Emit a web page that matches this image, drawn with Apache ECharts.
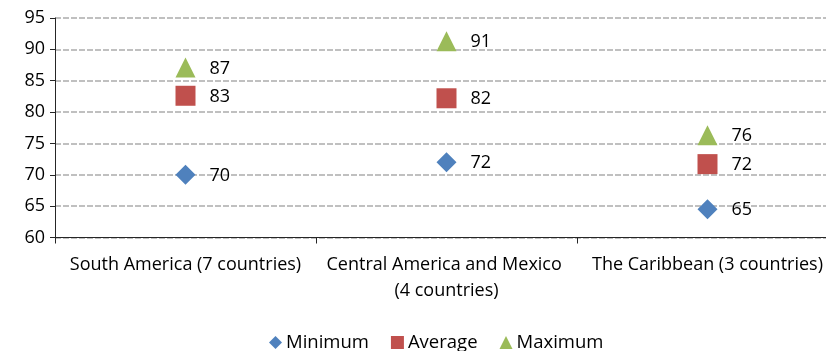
<!DOCTYPE html>
<html>
<head>
<meta charset="utf-8">
<script src="https://cdn.jsdelivr.net/npm/echarts@6/dist/echarts.min.js"></script>
<style>
  html, body { margin: 0; padding: 0; background: #fff; }
  #chart { width: 826px; height: 351px; }
</style>
</head>
<body>
<div id="chart"></div>
<script>
// Regions compared, with the minimum, average and maximum per region
const categories = ['South America (7 countries)', 'Central America and Mexico (4 countries)', 'The Caribbean (3 countries)'];
const minimumValues = [70.0, 72.0, 64.5];
const averageValues = [82.6, 82.2, 71.7];
const maximumValues = [87.1, 91.3, 76.3];
const yTicks = { min: 60, max: 95, step: 5 };

const FONT = '"Open Sans", "Liberation Sans", sans-serif';

function seriesOf(name, data, symbol, color) {
  return {
    name: name,
    type: 'scatter',
    data: data,
    symbol: symbol,
    symbolSize: 20,
    itemStyle: { color: color, opacity: 1 },
    label: {
      show: true,
      position: 'right',
      distance: 14,
      offset: [0, 1],
      color: '#000',
      fontFamily: FONT,
      fontSize: 18,
      formatter: p => Math.round(p.value).toString()
    },
    emphasis: { disabled: true }
  };
}

const chart = echarts.init(document.getElementById('chart'));
chart.setOption({
  animation: false,
  grid: { left: 55, top: 18, width: 783, height: 219.5, containLabel: false, outerBoundsMode: 'none' },
  legend: {
    top: 328,
    left: 264,
    itemWidth: 13,
    itemHeight: 13,
    itemGap: 22,
    textStyle: { fontFamily: FONT, fontSize: 18.5, color: '#000', padding: [0, 0, 0, -1] },
    data: [
      { name: 'Minimum', icon: 'diamond' },
      { name: 'Average', icon: 'rect' },
      { name: 'Maximum', icon: 'triangle' }
    ]
  },
  xAxis: {
    type: 'category',
    data: categories,
    boundaryGap: true,
    axisLine: { lineStyle: { color: '#262626', width: 1 } },
    axisTick: { show: true, length: 6, lineStyle: { color: '#262626' } },
    axisLabel: {
      interval: 0,
      margin: 14,
      width: 245,
      overflow: 'break',
      lineHeight: 26,
      fontFamily: FONT,
      fontSize: 18,
      color: '#000'
    },
    splitLine: { show: false }
  },
  yAxis: {
    type: 'value',
    min: yTicks.min,
    max: yTicks.max,
    interval: yTicks.step,
    axisLine: { show: true, lineStyle: { color: '#262626', width: 1 } },
    axisTick: { show: true, length: 5, lineStyle: { color: '#262626' } },
    axisLabel: { margin: 10, fontFamily: FONT, fontSize: 18, color: '#000' },
    splitLine: { show: true, lineStyle: { color: '#c0c0c0', type: [6, 2], width: 2 } }
  },
  series: [
    seriesOf('Minimum', minimumValues, 'diamond', '#4f81bd'),
    seriesOf('Average', averageValues, 'rect', '#c0504d'),
    seriesOf('Maximum', maximumValues, 'triangle', '#9bbb59')
  ]
});
</script>
</body>
</html>
